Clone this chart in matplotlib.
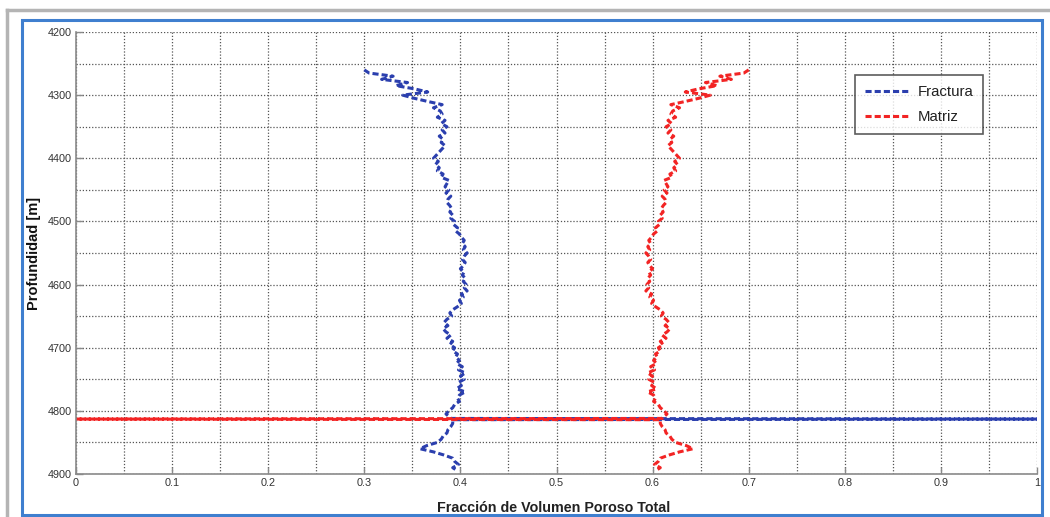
import matplotlib
matplotlib.use("Agg")
import matplotlib.pyplot as plt
from matplotlib.patches import Rectangle
from matplotlib.lines import Line2D
from matplotlib.ticker import MultipleLocator

plt.rcParams['font.family'] = ['Liberation Sans', 'DejaVu Sans']

# ---- data ----
depth = [4260, 4265, 4270, 4275, 4280, 4285, 4290, 4295, 4300, 4305,
         4310, 4315, 4320, 4325, 4330, 4335, 4340, 4345, 4350, 4355,
         4360, 4365, 4370, 4375, 4380, 4385, 4390, 4395, 4400, 4405,
         4410, 4415, 4420, 4425, 4430, 4435, 4440, 4445, 4450, 4455,
         4460, 4465, 4470, 4475, 4480, 4485, 4490, 4495, 4500, 4505,
         4510, 4515, 4520, 4525, 4530, 4535, 4540, 4545, 4550, 4555,
         4560, 4565, 4570, 4575, 4580, 4585, 4590, 4595, 4600, 4605,
         4610, 4615, 4620, 4625, 4630, 4635, 4640, 4645, 4650, 4655,
         4660, 4665, 4670, 4675, 4680, 4685, 4690, 4695, 4700, 4705,
         4710, 4715, 4720, 4725, 4730, 4735, 4740, 4745, 4750, 4755,
         4760, 4765, 4770, 4775, 4780, 4785, 4790, 4795, 4800, 4805,
         4810, 4812, 4813, 4814, 4820, 4825, 4830, 4835, 4840, 4845,
         4850, 4855, 4860, 4865, 4870, 4875, 4880, 4885, 4890, 4895]

fractura = [0.300, 0.305, 0.330, 0.318, 0.345, 0.333, 0.352, 0.366, 0.340, 0.352,
            0.366, 0.381, 0.372, 0.379, 0.381, 0.376, 0.384, 0.380, 0.386, 0.381,
            0.384, 0.378, 0.382, 0.380, 0.384, 0.381, 0.378, 0.375, 0.372, 0.377,
            0.374, 0.378, 0.376, 0.382, 0.380, 0.388, 0.386, 0.384, 0.388, 0.385,
            0.390, 0.387, 0.386, 0.389, 0.391, 0.389, 0.392, 0.390, 0.394, 0.393,
            0.397, 0.395, 0.399, 0.401, 0.404, 0.402, 0.405, 0.403, 0.407, 0.404,
            0.402, 0.405, 0.403, 0.400, 0.404, 0.402, 0.405, 0.403, 0.406, 0.404,
            0.407, 0.401, 0.403, 0.399, 0.401, 0.397, 0.392, 0.389, 0.391, 0.386,
            0.383, 0.387, 0.382, 0.385, 0.390, 0.386, 0.392, 0.389, 0.394, 0.392,
            0.397, 0.395, 0.399, 0.396, 0.402, 0.398, 0.405, 0.400, 0.404, 0.398,
            0.401, 0.396, 0.405, 0.399, 0.397, 0.399, 0.394, 0.392, 0.388, 0.385,
            0.389, 0.390, 1.000, 0.392, 0.392, 0.390, 0.387, 0.386, 0.382, 0.380,
            0.376, 0.365, 0.358, 0.372, 0.383, 0.392, 0.394, 0.398, 0.392, 0.397]

matriz = [0.700, 0.695, 0.670, 0.682, 0.655, 0.667, 0.648, 0.634, 0.660, 0.648,
          0.634, 0.619, 0.628, 0.621, 0.619, 0.624, 0.616, 0.620, 0.614, 0.619,
          0.616, 0.622, 0.618, 0.620, 0.616, 0.619, 0.622, 0.625, 0.628, 0.623,
          0.626, 0.622, 0.624, 0.618, 0.620, 0.612, 0.614, 0.616, 0.612, 0.615,
          0.610, 0.613, 0.614, 0.611, 0.609, 0.611, 0.608, 0.610, 0.606, 0.607,
          0.603, 0.605, 0.601, 0.599, 0.596, 0.598, 0.595, 0.597, 0.593, 0.596,
          0.598, 0.595, 0.597, 0.600, 0.596, 0.598, 0.595, 0.597, 0.594, 0.596,
          0.593, 0.599, 0.597, 0.601, 0.599, 0.603, 0.608, 0.611, 0.609, 0.614,
          0.617, 0.613, 0.618, 0.615, 0.610, 0.614, 0.608, 0.611, 0.606, 0.608,
          0.603, 0.605, 0.601, 0.604, 0.598, 0.602, 0.595, 0.600, 0.596, 0.602,
          0.599, 0.604, 0.595, 0.601, 0.603, 0.601, 0.606, 0.608, 0.612, 0.615,
          0.611, 0.610, 0.000, 0.608, 0.608, 0.610, 0.613, 0.614, 0.618, 0.620,
          0.624, 0.635, 0.642, 0.628, 0.617, 0.608, 0.606, 0.602, 0.608, 0.603]

series_labels = ['Fractura', 'Matriz']
xlabel_text = 'Fracción de Volumen Poroso Total'
ylabel_text = 'Profundidad [m]'

# ---- figure ----
W, H = 1050, 517
fig = plt.figure(figsize=(W / 100, H / 100), dpi=100)
fig.patch.set_facecolor('white')

def fx(px):
    return px / W

def fy(py):
    return 1 - py / H

# outer gray border (top and left)
fig.add_artist(Line2D([fx(7), fx(1050)], [fy(10), fy(10)], color='#b4b4b4', lw=2.5))
fig.add_artist(Line2D([fx(7), fx(7)], [fy(10), fy(517)], color='#b4b4b4', lw=2.5))
# blue inner frame
fig.add_artist(Rectangle((fx(22), fy(515)), fx(1042) - fx(22), fy(20) - fy(515),
                         fill=False, edgecolor='#3f7fcf', lw=2.2))

ax_l, ax_r, ax_t, ax_b = 76, 1037, 32, 474
ax = fig.add_axes([fx(ax_l), fy(ax_b), fx(ax_r) - fx(ax_l), fy(ax_t) - fy(ax_b)])

blue = '#2b3fae'
red = '#f22424'
ax.plot(fractura, depth, color=blue, lw=2.2, ls=(0, (2.0, 1.0)), label=series_labels[0])
ax.plot(matriz, depth, color=red, lw=2.2, ls=(0, (2.0, 1.0)), label=series_labels[1])

ax.set_xlim(0, 1)
ax.set_ylim(4900, 4200)
ax.xaxis.set_major_locator(MultipleLocator(0.1))
ax.xaxis.set_minor_locator(MultipleLocator(0.05))
ax.yaxis.set_major_locator(MultipleLocator(100))
ax.yaxis.set_minor_locator(MultipleLocator(50))
ax.xaxis.set_major_formatter(plt.FuncFormatter(lambda v, p: ('%g' % round(v, 2))))
ax.grid(True, which='both', ls=(0, (1, 1.5)), color='#555555', lw=0.9)
ax.set_axisbelow(True)

for s in ['top', 'right']:
    ax.spines[s].set_visible(False)
for s in ['left', 'bottom']:
    ax.spines[s].set_color('#8a8a8a')
    ax.spines[s].set_linewidth(1.2)

ax.tick_params(which='major', direction='in', length=5, width=1, color='#8a8a8a',
               labelsize=7.8, labelcolor='#333333', pad=3)
ax.tick_params(which='minor', length=0)

ax.set_xlabel(xlabel_text, fontsize=10.3, fontweight='bold', color='#222222')
ax.set_ylabel(ylabel_text, fontsize=10.5, fontweight='bold', color='#111111')
ax.xaxis.set_label_coords(0.497, -0.062)
ax.yaxis.set_label_coords(-0.036, 0.5)

leg = ax.legend(loc='upper left', bbox_to_anchor=(0.811, 0.902), fontsize=10.8,
                frameon=True, fancybox=False, handlelength=3.0, handletextpad=0.5,
                borderpad=0.65, labelspacing=0.75, borderaxespad=0)
leg.get_frame().set_edgecolor('#333333')
leg.get_frame().set_linewidth(1.2)
for t in leg.get_texts():
    t.set_color('#222222')

fig.savefig('out.png', dpi=100)
